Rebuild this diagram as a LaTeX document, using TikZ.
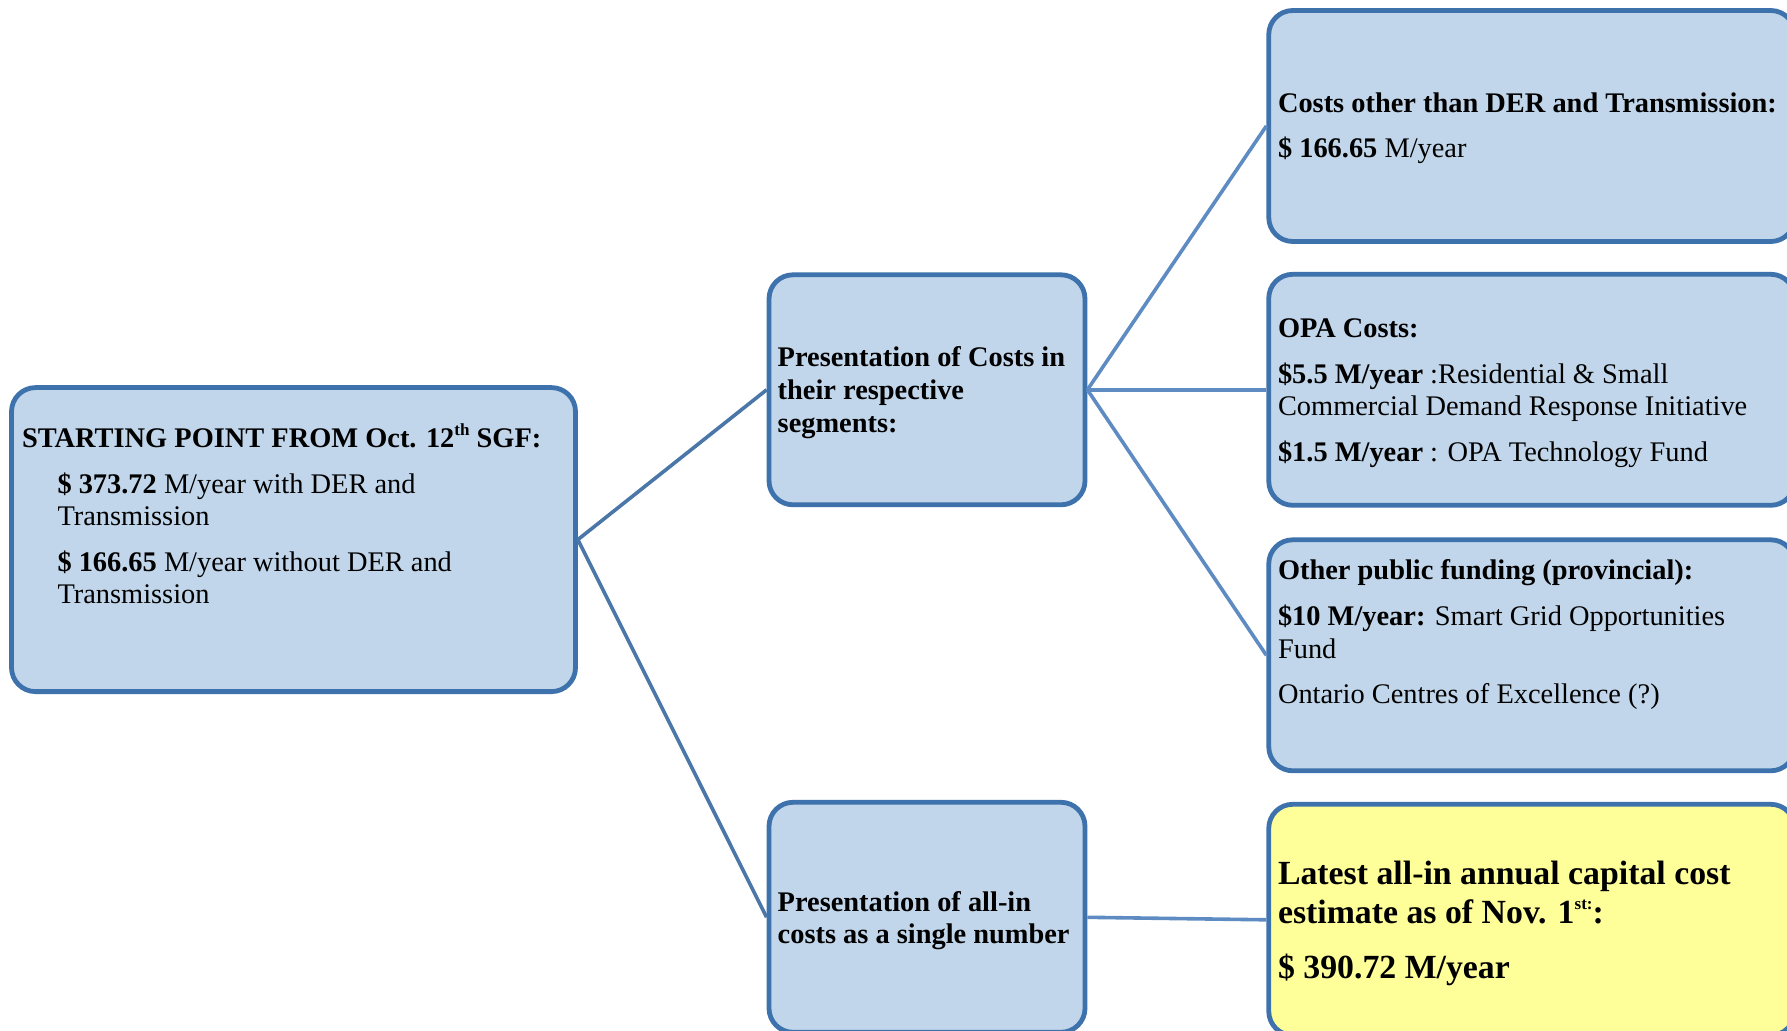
\documentclass[tikz,border=0pt]{standalone}
\usepackage{fontspec}
\setmainfont{Liberation Serif}
\definecolor{boxfill}{RGB}{193,214,234}
\definecolor{boxline}{RGB}{61,114,172}
\definecolor{linkdark}{RGB}{74,118,168}
\definecolor{linklight}{RGB}{94,140,194}
\definecolor{hilite}{RGB}{255,255,153}
\newcommand{\supsm}[1]{\raisebox{0.42em}{\fontsize{8.5}{8.5}\selectfont #1}}
\begin{document}
\begin{tikzpicture}[x=0.5pt,y=-0.5pt,
  costbox/.style={draw=boxline,fill=boxfill,line width=2.4pt,rounded corners=12pt},
  sidebox/.style={costbox,minimum width=158pt,minimum height=115pt},
  farbox/.style={costbox,minimum width=263pt,minimum height=115.5pt},
  txt/.style={inner sep=0pt,anchor=west,align=left,font=\fontsize{14.2}{16.3}\selectfont},
  bigtxt/.style={txt,font=\fontsize{16.9}{19.4}\selectfont\bfseries},
  link/.style={line width=1.8pt}]
\useasboundingbox (0,0) rectangle (1787,1031);
% boxes
\node[costbox,minimum width=282pt,minimum height=152pt] (start) at (293.5,539.6) {};
\node[sidebox] (segs) at (927,389.8) {};
\node[sidebox] (allin) at (927,917.3) {};
\node[farbox] (other) at (1531.75,126) {};
\node[farbox] (opa) at (1531.75,389.8) {};
\node[farbox] (public) at (1531.75,655.3) {};
\node[farbox,fill=hilite] (latest) at (1531.75,919.8) {};
% connectors
\draw[link,linkdark] (start.east) -- (segs.west);
\draw[link,linkdark] (start.east) -- (allin.west);
\draw[link,linklight] (segs.east) -- (other.west);
\draw[link,linklight] (segs.east) -- (opa.west);
\draw[link,linklight] (segs.east) -- (public.west);
\draw[link,linklight] (allin.east) -- (latest.west);
% texts
\node[txt] (starttxt) at (21.7,514) {\textbf{STARTING POINT FROM Oct. 12\supsm{th} SGF:}\\[6.5pt]
  \hspace*{17.7pt}\textbf{\$ 373.72} M/year with DER and\\
  \hspace*{17.7pt}Transmission\\[6.5pt]
  \hspace*{17.7pt}\textbf{\$ 166.65} M/year without DER and\\
  \hspace*{17.7pt}Transmission};
\node[txt,font=\fontsize{14.2}{16.3}\selectfont\bfseries] (segstxt) at (777.3,392.6) {Presentation of Costs in\\their respective\\segments:};
\node[txt,font=\fontsize{14.2}{16.3}\selectfont\bfseries] (allintxt) at (777.3,920.5) {Presentation of all-in\\costs as a single number};
\node[txt] (othertxt) at (1277.6,128.2) {\textbf{Costs other than DER and Transmission:}\\[6.5pt]
  \textbf{\$ 166.65} M/year};
\node[txt] (opatxt) at (1277.6,393.2) {\textbf{OPA Costs:}\\[6.5pt]
  \textbf{\$5.5 M/year} :Residential \& Small\\
  Commercial Demand Response Initiative\\[6.5pt]
  \textbf{\$1.5 M/year} : OPA Technology Fund};
\node[txt] (publictxt) at (1277.6,634.8) {\textbf{Other public funding (provincial):}\\[6.5pt]
  \textbf{\$10 M/year:} Smart Grid Opportunities\\
  Fund\\[6.5pt]
  Ontario Centres of Excellence (?)};
\node[bigtxt] (latesttxt) at (1277.6,923.5) {Latest all-in annual capital cost\\
  estimate as of Nov. 1\supsm{st:}:\\[8pt]
  \$ 390.72 M/year};
\end{tikzpicture}
\end{document}
